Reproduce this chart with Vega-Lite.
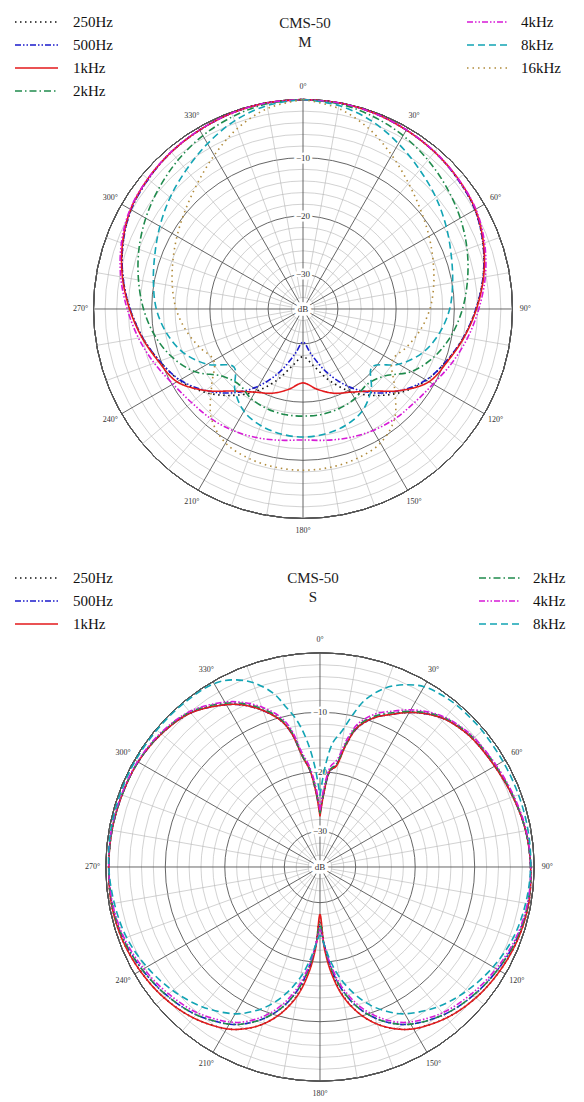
{
"$schema":"https://vega.github.io/schema/vega-lite/v6.json",
"padding":0,
"spacing":0,
"config":{"view":{"stroke":null},"font":"Liberation Serif","concat":{"spacing":0}},
"datasets":{
"ringMinor":[{"L":-34},{"L":-32},{"L":-28},{"L":-26},{"L":-24},{"L":-22},{"L":-18},{"L":-16},{"L":-14},{"L":-12},{"L":-8},{"L":-6},{"L":-4},{"L":-2}],
"ringMajor":[{"L":-30},{"L":-20},{"L":-10},{"L":0}],
"spokeMinor":[{"a":10},{"a":20},{"a":40},{"a":50},{"a":70},{"a":80},{"a":100},{"a":110},{"a":130},{"a":140},{"a":160},{"a":170},{"a":190},{"a":200},{"a":220},{"a":230},{"a":250},{"a":260},{"a":280},{"a":290},{"a":310},{"a":320},{"a":340},{"a":350}],
"spokeMajor":[{"a":0},{"a":30},{"a":60},{"a":90},{"a":120},{"a":150},{"a":180},{"a":210},{"a":240},{"a":270},{"a":300},{"a":330}],
"angLab":[{"a":0,"t":"0°"},{"a":30,"t":"30°"},{"a":60,"t":"60°"},{"a":90,"t":"90°"},{"a":120,"t":"120°"},{"a":150,"t":"150°"},{"a":180,"t":"180°"},{"a":210,"t":"210°"},{"a":240,"t":"240°"},{"a":270,"t":"270°"},{"a":300,"t":"300°"},{"a":330,"t":"330°"}],
"levLab":[{"L":-10,"t":"−10"},{"L":-20,"t":"−20"},{"L":-30,"t":"−30"}],
"centre":[{"t":"dB"}],
"M":[
{"a":0,"250Hz":0,"500Hz":0,"1kHz":0,"2kHz":0,"4kHz":0,"8kHz":0,"16kHz":0},
{"a":10,"250Hz":-0.05,"500Hz":-0.05,"1kHz":-0.05,"2kHz":-0.2,"4kHz":-0.05,"8kHz":-0.5,"16kHz":-1.0},
{"a":20,"250Hz":-0.2,"500Hz":-0.2,"1kHz":-0.2,"2kHz":-0.8,"4kHz":-0.2,"8kHz":-1.6,"16kHz":-3.0},
{"a":30,"250Hz":-0.5,"500Hz":-0.5,"1kHz":-0.5,"2kHz":-1.6,"4kHz":-0.45,"8kHz":-3.2,"16kHz":-5.5},
{"a":40,"250Hz":-0.8,"500Hz":-0.8,"1kHz":-0.8,"2kHz":-2.6,"4kHz":-0.75,"8kHz":-4.8,"16kHz":-7.8},
{"a":50,"250Hz":-1.3,"500Hz":-1.3,"1kHz":-1.2,"2kHz":-3.7,"4kHz":-1.2,"8kHz":-6.2,"16kHz":-9.6},
{"a":60,"250Hz":-1.9,"500Hz":-1.9,"1kHz":-1.8,"2kHz":-4.8,"4kHz":-1.7,"8kHz":-7.6,"16kHz":-11.0},
{"a":70,"250Hz":-3.1,"500Hz":-3.1,"1kHz":-3.0,"2kHz":-6.0,"4kHz":-2.8,"8kHz":-8.9,"16kHz":-12.2},
{"a":80,"250Hz":-4.6,"500Hz":-4.6,"1kHz":-4.5,"2kHz":-7.3,"4kHz":-4.2,"8kHz":-9.9,"16kHz":-13.2},
{"a":90,"250Hz":-6.3,"500Hz":-6.3,"1kHz":-6.2,"2kHz":-8.6,"4kHz":-5.8,"8kHz":-10.8,"16kHz":-14.2},
{"a":100,"250Hz":-8.0,"500Hz":-8.0,"1kHz":-7.9,"2kHz":-10.1,"4kHz":-7.3,"8kHz":-12.2,"16kHz":-15.5},
{"a":110,"250Hz":-9.8,"500Hz":-9.8,"1kHz":-9.6,"2kHz":-12.0,"4kHz":-8.8,"8kHz":-14.1,"16kHz":-17.0},
{"a":120,"250Hz":-11.5,"500Hz":-11.6,"1kHz":-11.0,"2kHz":-14.5,"4kHz":-10.2,"8kHz":-17.0,"16kHz":-18.3},
{"a":130,"250Hz":-13.8,"500Hz":-14.2,"1kHz":-14.2,"2kHz":-18.0,"4kHz":-11.0,"8kHz":-20.5,"16kHz":-15.5},
{"a":140,"250Hz":-16.6,"500Hz":-17.2,"1kHz":-17.6,"2kHz":-19.0,"4kHz":-11.4,"8kHz":-17.8,"16kHz":-11.5},
{"a":150,"250Hz":-19.6,"500Hz":-20.7,"1kHz":-19.5,"2kHz":-18.2,"4kHz":-11.9,"8kHz":-15.7,"16kHz":-9.4},
{"a":160,"250Hz":-23.0,"500Hz":-24.6,"1kHz":-20.6,"2kHz":-17.8,"4kHz":-12.5,"8kHz":-14.7,"16kHz":-8.7},
{"a":170,"250Hz":-26.2,"500Hz":-28.2,"1kHz":-22.0,"2kHz":-17.6,"4kHz":-13.1,"8kHz":-14.2,"16kHz":-8.4},
{"a":180,"250Hz":-27.8,"500Hz":-30.3,"1kHz":-23.3,"2kHz":-17.6,"4kHz":-13.5,"8kHz":-14.0,"16kHz":-8.3},
{"a":190,"250Hz":-26.2,"500Hz":-28.2,"1kHz":-22.0,"2kHz":-17.6,"4kHz":-13.1,"8kHz":-14.2,"16kHz":-8.4},
{"a":200,"250Hz":-23.0,"500Hz":-24.6,"1kHz":-20.6,"2kHz":-17.8,"4kHz":-12.5,"8kHz":-14.7,"16kHz":-8.7},
{"a":210,"250Hz":-19.6,"500Hz":-20.7,"1kHz":-19.5,"2kHz":-18.2,"4kHz":-11.9,"8kHz":-15.7,"16kHz":-9.4},
{"a":220,"250Hz":-16.6,"500Hz":-17.2,"1kHz":-17.6,"2kHz":-19.0,"4kHz":-11.4,"8kHz":-17.8,"16kHz":-11.5},
{"a":230,"250Hz":-13.8,"500Hz":-14.2,"1kHz":-14.2,"2kHz":-18.0,"4kHz":-11.0,"8kHz":-20.5,"16kHz":-15.5},
{"a":240,"250Hz":-11.5,"500Hz":-11.6,"1kHz":-11.0,"2kHz":-14.5,"4kHz":-10.2,"8kHz":-17.0,"16kHz":-18.3},
{"a":250,"250Hz":-9.8,"500Hz":-9.8,"1kHz":-9.6,"2kHz":-12.0,"4kHz":-8.8,"8kHz":-14.1,"16kHz":-17.0},
{"a":260,"250Hz":-8.0,"500Hz":-8.0,"1kHz":-7.9,"2kHz":-10.1,"4kHz":-7.3,"8kHz":-12.2,"16kHz":-15.5},
{"a":270,"250Hz":-6.3,"500Hz":-6.3,"1kHz":-6.2,"2kHz":-8.6,"4kHz":-5.8,"8kHz":-10.8,"16kHz":-14.2},
{"a":280,"250Hz":-4.6,"500Hz":-4.6,"1kHz":-4.5,"2kHz":-7.3,"4kHz":-4.2,"8kHz":-9.9,"16kHz":-13.2},
{"a":290,"250Hz":-3.1,"500Hz":-3.1,"1kHz":-3.0,"2kHz":-6.0,"4kHz":-2.8,"8kHz":-8.9,"16kHz":-12.2},
{"a":300,"250Hz":-1.9,"500Hz":-1.9,"1kHz":-1.8,"2kHz":-4.8,"4kHz":-1.7,"8kHz":-7.6,"16kHz":-11.0},
{"a":310,"250Hz":-1.3,"500Hz":-1.3,"1kHz":-1.2,"2kHz":-3.7,"4kHz":-1.2,"8kHz":-6.2,"16kHz":-9.6},
{"a":320,"250Hz":-0.8,"500Hz":-0.8,"1kHz":-0.8,"2kHz":-2.6,"4kHz":-0.75,"8kHz":-4.8,"16kHz":-7.8},
{"a":330,"250Hz":-0.5,"500Hz":-0.5,"1kHz":-0.5,"2kHz":-1.6,"4kHz":-0.45,"8kHz":-3.2,"16kHz":-5.5},
{"a":340,"250Hz":-0.2,"500Hz":-0.2,"1kHz":-0.2,"2kHz":-0.8,"4kHz":-0.2,"8kHz":-1.6,"16kHz":-3.0},
{"a":350,"250Hz":-0.05,"500Hz":-0.05,"1kHz":-0.05,"2kHz":-0.2,"4kHz":-0.05,"8kHz":-0.5,"16kHz":-1.0},
{"a":360,"250Hz":0,"500Hz":0,"1kHz":0,"2kHz":0,"4kHz":0,"8kHz":0,"16kHz":0}
],
"S":[
{"a":0,"250Hz":-27,"500Hz":-27,"1kHz":-27.5,"2kHz":-27,"4kHz":-26.5,"8kHz":-24},
{"a":3,"250Hz":-23.5,"500Hz":-23.5,"1kHz":-23.5,"2kHz":-23,"4kHz":-22.5,"8kHz":-19},
{"a":6,"250Hz":-19.8,"500Hz":-19.8,"1kHz":-19.6,"2kHz":-19.5,"4kHz":-19,"8kHz":-14.9},
{"a":9,"250Hz":-18.7,"500Hz":-18.7,"1kHz":-18.9,"2kHz":-18.5,"4kHz":-17.8,"8kHz":-13},
{"a":12,"250Hz":-15,"500Hz":-15,"1kHz":-15,"2kHz":-14.6,"4kHz":-14,"8kHz":-10},
{"a":15,"250Hz":-11.8,"500Hz":-11.8,"1kHz":-11.7,"2kHz":-11.4,"4kHz":-11,"8kHz":-7},
{"a":20,"250Hz":-9.3,"500Hz":-9.3,"1kHz":-9.3,"2kHz":-9.0,"4kHz":-8.6,"8kHz":-4},
{"a":25,"250Hz":-7.7,"500Hz":-7.7,"1kHz":-7.7,"2kHz":-7.4,"4kHz":-7.1,"8kHz":-2.2},
{"a":30,"250Hz":-6.0,"500Hz":-6.0,"1kHz":-6.0,"2kHz":-5.8,"4kHz":-5.5,"8kHz":-1.0},
{"a":35,"250Hz":-4.6,"500Hz":-4.6,"1kHz":-4.6,"2kHz":-4.4,"4kHz":-4.2,"8kHz":-0.6},
{"a":40,"250Hz":-3.5,"500Hz":-3.5,"1kHz":-3.5,"2kHz":-3.3,"4kHz":-3.2,"8kHz":-0.4},
{"a":45,"250Hz":-2.9,"500Hz":-2.9,"1kHz":-2.9,"2kHz":-2.7,"4kHz":-2.6,"8kHz":-0.4},
{"a":50,"250Hz":-2.5,"500Hz":-2.5,"1kHz":-2.5,"2kHz":-2.3,"4kHz":-2.2,"8kHz":-0.4},
{"a":60,"250Hz":-2.1,"500Hz":-2.1,"1kHz":-2.1,"2kHz":-1.9,"4kHz":-1.8,"8kHz":-0.5},
{"a":70,"250Hz":-1.5,"500Hz":-1.5,"1kHz":-1.5,"2kHz":-1.4,"4kHz":-1.3,"8kHz":-0.5},
{"a":80,"250Hz":-0.9,"500Hz":-0.9,"1kHz":-0.9,"2kHz":-0.9,"4kHz":-0.8,"8kHz":-0.5},
{"a":90,"250Hz":-0.6,"500Hz":-0.6,"1kHz":-0.6,"2kHz":-0.6,"4kHz":-0.6,"8kHz":-0.6},
{"a":100,"250Hz":-0.4,"500Hz":-0.5,"1kHz":-0.4,"2kHz":-0.5,"4kHz":-0.6,"8kHz":-0.9},
{"a":110,"250Hz":-0.6,"500Hz":-0.8,"1kHz":-0.6,"2kHz":-0.8,"4kHz":-1.0,"8kHz":-1.4},
{"a":120,"250Hz":-1.1,"500Hz":-1.5,"1kHz":-1.1,"2kHz":-1.5,"4kHz":-1.8,"8kHz":-2.4},
{"a":130,"250Hz":-1.8,"500Hz":-2.4,"1kHz":-1.8,"2kHz":-2.4,"4kHz":-2.8,"8kHz":-3.7},
{"a":140,"250Hz":-2.9,"500Hz":-3.6,"1kHz":-2.9,"2kHz":-3.6,"4kHz":-4.0,"8kHz":-5.3},
{"a":150,"250Hz":-4.6,"500Hz":-5.5,"1kHz":-4.6,"2kHz":-5.5,"4kHz":-5.9,"8kHz":-7.5},
{"a":155,"250Hz":-6.0,"500Hz":-7.0,"1kHz":-6.0,"2kHz":-7.0,"4kHz":-7.4,"8kHz":-9.2},
{"a":160,"250Hz":-7.9,"500Hz":-9.0,"1kHz":-7.9,"2kHz":-9.0,"4kHz":-9.5,"8kHz":-11.3},
{"a":165,"250Hz":-10.5,"500Hz":-11.6,"1kHz":-10.5,"2kHz":-11.6,"4kHz":-12.2,"8kHz":-14.0},
{"a":170,"250Hz":-14.2,"500Hz":-15.2,"1kHz":-14.0,"2kHz":-15.2,"4kHz":-15.8,"8kHz":-17.2},
{"a":174,"250Hz":-18.6,"500Hz":-19.2,"1kHz":-18.2,"2kHz":-19.2,"4kHz":-19.7,"8kHz":-20.4},
{"a":177,"250Hz":-23,"500Hz":-23,"1kHz":-22.5,"2kHz":-23,"4kHz":-23,"8kHz":-23},
{"a":180,"250Hz":-27.5,"500Hz":-26,"1kHz":-28,"2kHz":-26.5,"4kHz":-25.5,"8kHz":-24.5},
{"a":183,"250Hz":-23,"500Hz":-23,"1kHz":-22.5,"2kHz":-23,"4kHz":-23,"8kHz":-23},
{"a":186,"250Hz":-18.6,"500Hz":-19.2,"1kHz":-18.2,"2kHz":-19.2,"4kHz":-19.7,"8kHz":-20.4},
{"a":190,"250Hz":-14.2,"500Hz":-15.2,"1kHz":-14.0,"2kHz":-15.2,"4kHz":-15.8,"8kHz":-17.2},
{"a":195,"250Hz":-10.5,"500Hz":-11.6,"1kHz":-10.5,"2kHz":-11.6,"4kHz":-12.2,"8kHz":-14.0},
{"a":200,"250Hz":-7.9,"500Hz":-9.0,"1kHz":-7.9,"2kHz":-9.0,"4kHz":-9.5,"8kHz":-11.3},
{"a":205,"250Hz":-6.0,"500Hz":-7.0,"1kHz":-6.0,"2kHz":-7.0,"4kHz":-7.4,"8kHz":-9.2},
{"a":210,"250Hz":-4.6,"500Hz":-5.5,"1kHz":-4.6,"2kHz":-5.5,"4kHz":-5.9,"8kHz":-7.5},
{"a":220,"250Hz":-2.9,"500Hz":-3.6,"1kHz":-2.9,"2kHz":-3.6,"4kHz":-4.0,"8kHz":-5.3},
{"a":230,"250Hz":-1.8,"500Hz":-2.4,"1kHz":-1.8,"2kHz":-2.4,"4kHz":-2.8,"8kHz":-3.7},
{"a":240,"250Hz":-1.1,"500Hz":-1.5,"1kHz":-1.1,"2kHz":-1.5,"4kHz":-1.8,"8kHz":-2.4},
{"a":250,"250Hz":-0.6,"500Hz":-0.8,"1kHz":-0.6,"2kHz":-0.8,"4kHz":-1.0,"8kHz":-1.4},
{"a":260,"250Hz":-0.4,"500Hz":-0.5,"1kHz":-0.4,"2kHz":-0.5,"4kHz":-0.6,"8kHz":-0.9},
{"a":270,"250Hz":-0.5,"500Hz":-0.5,"1kHz":-0.5,"2kHz":-0.5,"4kHz":-0.5,"8kHz":-0.5},
{"a":280,"250Hz":-0.5,"500Hz":-0.5,"1kHz":-0.5,"2kHz":-0.5,"4kHz":-0.4,"8kHz":-0.3},
{"a":290,"250Hz":-0.6,"500Hz":-0.6,"1kHz":-0.6,"2kHz":-0.6,"4kHz":-0.5,"8kHz":-0.25},
{"a":300,"250Hz":-0.7,"500Hz":-0.7,"1kHz":-0.7,"2kHz":-0.7,"4kHz":-0.6,"8kHz":-0.2},
{"a":310,"250Hz":-1.2,"500Hz":-1.2,"1kHz":-1.2,"2kHz":-1.1,"4kHz":-1.0,"8kHz":-0.2},
{"a":320,"250Hz":-2.2,"500Hz":-2.2,"1kHz":-2.2,"2kHz":-2.0,"4kHz":-1.9,"8kHz":-0.2},
{"a":330,"250Hz":-4.5,"500Hz":-4.5,"1kHz":-4.5,"2kHz":-4.2,"4kHz":-4.0,"8kHz":-0.4},
{"a":335,"250Hz":-6.0,"500Hz":-6.0,"1kHz":-6.0,"2kHz":-5.7,"4kHz":-5.5,"8kHz":-1.3},
{"a":340,"250Hz":-8.0,"500Hz":-8.0,"1kHz":-8.0,"2kHz":-7.7,"4kHz":-7.4,"8kHz":-3.0},
{"a":345,"250Hz":-10.5,"500Hz":-10.5,"1kHz":-10.5,"2kHz":-10.2,"4kHz":-9.8,"8kHz":-5.8},
{"a":348,"250Hz":-13,"500Hz":-13,"1kHz":-13,"2kHz":-12.6,"4kHz":-12.2,"8kHz":-8.5},
{"a":351,"250Hz":-17.2,"500Hz":-17.2,"1kHz":-17.2,"2kHz":-17,"4kHz":-16.5,"8kHz":-11},
{"a":354,"250Hz":-19.6,"500Hz":-19.6,"1kHz":-19.6,"2kHz":-19.4,"4kHz":-19,"8kHz":-14.5},
{"a":357,"250Hz":-23.5,"500Hz":-23.5,"1kHz":-23.5,"2kHz":-23,"4kHz":-22.5,"8kHz":-19},
{"a":360,"250Hz":-27,"500Hz":-27,"1kHz":-27.5,"2kHz":-27,"4kHz":-26.5,"8kHz":-24}
]
},
"vconcat":[
{
"width":584,"height":551,
"title":{"text":"CMS-50","subtitle":"M","frame":"group","anchor":"middle","dx":13,"offset":-50,"font":"Liberation Serif","fontSize":15,"fontWeight":"normal","color":"#222","subtitleFont":"Liberation Serif","subtitleFontSize":15,"subtitleColor":"#222","subtitlePadding":4},
"layer":[
{"data":{"name":"ringMinor"},"mark":{"type":"arc","theta":0,"theta2":6.2832,"fillOpacity":0,"stroke":"#b4b4b4","strokeWidth":0.6},
 "encoding":{"x":{"datum":0,"type":"quantitative","scale":{"domain":[-52.06,48.28],"nice":false,"zero":false},"axis":null},
 "y":{"datum":0,"type":"quantitative","scale":{"domain":[-41.58,53.09],"nice":false,"zero":false},"axis":null},
 "radius":{"field":"L","type":"quantitative","stack":null,"scale":{"type":"linear","domain":[-36,0],"range":[0,209.5],"zero":false,"nice":false}}}},
{"data":{"name":"ringMajor"},"mark":{"type":"arc","theta":0,"theta2":6.2832,"fillOpacity":0,"stroke":"#555555","strokeWidth":0.9},
 "encoding":{"x":{"datum":0,"type":"quantitative"},"y":{"datum":0,"type":"quantitative"},
 "radius":{"field":"L","type":"quantitative","stack":null,"scale":{"type":"linear","domain":[-36,0],"range":[0,209.5],"zero":false,"nice":false}}}},
{"data":{"name":"spokeMinor"},"transform":[{"calculate":"2*sin(datum.a*PI/180)","as":"x0"},{"calculate":"2*cos(datum.a*PI/180)","as":"y0"},{"calculate":"36*sin(datum.a*PI/180)","as":"x1"},{"calculate":"36*cos(datum.a*PI/180)","as":"y1"}],
 "mark":{"type":"rule","stroke":"#b4b4b4","strokeWidth":0.6},
 "encoding":{"x":{"field":"x0","type":"quantitative"},"y":{"field":"y0","type":"quantitative"},"x2":{"field":"x1"},"y2":{"field":"y1"}}},
{"data":{"name":"spokeMajor"},"transform":[{"calculate":"0*datum.a","as":"x0"},{"calculate":"36*sin(datum.a*PI/180)","as":"x1"},{"calculate":"36*cos(datum.a*PI/180)","as":"y1"}],
 "mark":{"type":"rule","stroke":"#555555","strokeWidth":0.9},
 "encoding":{"x":{"field":"x0","type":"quantitative"},"y":{"field":"x0","type":"quantitative"},"x2":{"field":"x1"},"y2":{"field":"y1"}}},
{"data":{"name":"levLab"},"transform":[{"calculate":"datum.L+36","as":"ry"}],"mark":{"type":"text","font":"Liberation Serif","fontSize":9,"fill":"white","stroke":"white","strokeWidth":5},
 "encoding":{"x":{"datum":0,"type":"quantitative"},"y":{"field":"ry","type":"quantitative"},"text":{"field":"t","type":"nominal"}}},
{"data":{"name":"levLab"},"transform":[{"calculate":"datum.L+36","as":"ry"}],"mark":{"type":"text","font":"Liberation Serif","fontSize":9,"fill":"#333"},
 "encoding":{"x":{"datum":0,"type":"quantitative"},"y":{"field":"ry","type":"quantitative"},"text":{"field":"t","type":"nominal"}}},
{"data":{"name":"centre"},"mark":{"type":"text","font":"Liberation Serif","fontSize":9,"fill":"white","stroke":"white","strokeWidth":7},
 "encoding":{"x":{"datum":0,"type":"quantitative"},"y":{"datum":0,"type":"quantitative"},"text":{"field":"t","type":"nominal"}}},
{"data":{"name":"centre"},"mark":{"type":"text","font":"Liberation Serif","fontSize":9,"fill":"#333"},
 "encoding":{"x":{"datum":0,"type":"quantitative"},"y":{"datum":0,"type":"quantitative"},"text":{"field":"t","type":"nominal"}}},
{"data":{"name":"angLab"},"transform":[{"calculate":"38.2*sin(datum.a*PI/180)","as":"lx"},{"calculate":"38.2*cos(datum.a*PI/180)","as":"ly"}],
 "mark":{"type":"text","font":"Liberation Serif","fontSize":8,"fill":"#333"},
 "encoding":{"x":{"field":"lx","type":"quantitative"},"y":{"field":"ly","type":"quantitative"},"text":{"field":"t","type":"nominal"}}},
{"data":{"name":"M"},"transform":[{"fold":["250Hz","500Hz","1kHz","2kHz"],"as":["f","L"]},{"calculate":"(datum.L+36)*sin(datum.a*PI/180)","as":"px"},{"calculate":"(datum.L+36)*cos(datum.a*PI/180)","as":"py"}],
 "mark":{"type":"line","interpolate":"catmull-rom"},
 "encoding":{"x":{"field":"px","type":"quantitative"},"y":{"field":"py","type":"quantitative"},"order":{"field":"a","type":"quantitative"},
 "color":{"field":"f","type":"nominal","scale":{"domain":["250Hz","500Hz","1kHz","2kHz"],"range":["#111111","#1a1acc","#e31a1c","#1f8a4c"]},"legend":{"orient":"none","legendX":14,"legendY":12,"title":null,"symbolType":"stroke","symbolSize":1849,"labelFont":"Liberation Serif","labelFontSize":15,"labelColor":"#111","labelOffset":14,"clipHeight":20,"rowPadding":3,"padding":0}},
 "strokeDash":{"field":"f","type":"nominal","scale":{"domain":["250Hz","500Hz","1kHz","2kHz"],"range":[[1.5,3.5],[6,2,1.5,2,1.5,2],[1,0],[7,3,1.5,3]]}},
 "strokeWidth":{"field":"f","type":"nominal","scale":{"domain":["250Hz","500Hz","1kHz","2kHz"],"range":[1.6,1.6,2.4,1.6]}}}},
{"data":{"name":"M"},"transform":[{"fold":["4kHz","8kHz","16kHz"],"as":["f","L"]},{"calculate":"(datum.L+36)*sin(datum.a*PI/180)","as":"px"},{"calculate":"(datum.L+36)*cos(datum.a*PI/180)","as":"py"}],
 "mark":{"type":"line","interpolate":"catmull-rom"},
 "encoding":{"x":{"field":"px","type":"quantitative"},"y":{"field":"py","type":"quantitative"},"order":{"field":"a","type":"quantitative"},
 "color":{"field":"f","type":"nominal","scale":{"domain":["4kHz","8kHz","16kHz"],"range":["#d61ad6","#12a4b4","#b08a3a"]},"legend":{"orient":"none","legendX":466,"legendY":12,"title":null,"symbolType":"stroke","symbolSize":1681,"labelFont":"Liberation Serif","labelFontSize":15,"labelColor":"#111","labelOffset":12,"clipHeight":20,"rowPadding":3,"padding":0}},
 "strokeDash":{"field":"f","type":"nominal","scale":{"domain":["4kHz","8kHz","16kHz"],"range":[[6,2,1.5,2,1.5,2],[7,4],[1.5,4]]}},
 "strokeWidth":{"field":"f","type":"nominal","scale":{"domain":["4kHz","8kHz","16kHz"],"range":[1.6,1.6,1.6]}}}}
],
"resolve":{"scale":{"color":"independent","strokeDash":"independent","strokeWidth":"independent"}}
},
{
"width":584,"height":551,
"title":{"text":"CMS-50","subtitle":"S","frame":"group","anchor":"middle","dx":21,"offset":-54,"font":"Liberation Serif","fontSize":15,"fontWeight":"normal","color":"#222","subtitleFont":"Liberation Serif","subtitleFontSize":15,"subtitleColor":"#222","subtitlePadding":4},
"layer":[
{"data":{"name":"ringMinor"},"mark":{"type":"arc","theta":0,"theta2":6.2832,"fillOpacity":0,"stroke":"#b4b4b4","strokeWidth":0.6},
 "encoding":{"x":{"datum":0,"type":"quantitative","scale":{"domain":[-53.78,44.37],"nice":false,"zero":false},"axis":null},
 "y":{"datum":0,"type":"quantitative","scale":{"domain":[-39.5,53.11],"nice":false,"zero":false},"axis":null},
 "radius":{"field":"L","type":"quantitative","stack":null,"scale":{"type":"linear","domain":[-36,0],"range":[0,214.2],"zero":false,"nice":false}}}},
{"data":{"name":"ringMajor"},"mark":{"type":"arc","theta":0,"theta2":6.2832,"fillOpacity":0,"stroke":"#555555","strokeWidth":0.9},
 "encoding":{"x":{"datum":0,"type":"quantitative"},"y":{"datum":0,"type":"quantitative"},
 "radius":{"field":"L","type":"quantitative","stack":null,"scale":{"type":"linear","domain":[-36,0],"range":[0,214.2],"zero":false,"nice":false}}}},
{"data":{"name":"spokeMinor"},"transform":[{"calculate":"2*sin(datum.a*PI/180)","as":"x0"},{"calculate":"2*cos(datum.a*PI/180)","as":"y0"},{"calculate":"36*sin(datum.a*PI/180)","as":"x1"},{"calculate":"36*cos(datum.a*PI/180)","as":"y1"}],
 "mark":{"type":"rule","stroke":"#b4b4b4","strokeWidth":0.6},
 "encoding":{"x":{"field":"x0","type":"quantitative"},"y":{"field":"y0","type":"quantitative"},"x2":{"field":"x1"},"y2":{"field":"y1"}}},
{"data":{"name":"spokeMajor"},"transform":[{"calculate":"0*datum.a","as":"x0"},{"calculate":"36*sin(datum.a*PI/180)","as":"x1"},{"calculate":"36*cos(datum.a*PI/180)","as":"y1"}],
 "mark":{"type":"rule","stroke":"#555555","strokeWidth":0.9},
 "encoding":{"x":{"field":"x0","type":"quantitative"},"y":{"field":"x0","type":"quantitative"},"x2":{"field":"x1"},"y2":{"field":"y1"}}},
{"data":{"name":"levLab"},"transform":[{"calculate":"datum.L+36","as":"ry"}],"mark":{"type":"text","font":"Liberation Serif","fontSize":9,"fill":"white","stroke":"white","strokeWidth":5},
 "encoding":{"x":{"datum":0,"type":"quantitative"},"y":{"field":"ry","type":"quantitative"},"text":{"field":"t","type":"nominal"}}},
{"data":{"name":"levLab"},"transform":[{"calculate":"datum.L+36","as":"ry"}],"mark":{"type":"text","font":"Liberation Serif","fontSize":9,"fill":"#333"},
 "encoding":{"x":{"datum":0,"type":"quantitative"},"y":{"field":"ry","type":"quantitative"},"text":{"field":"t","type":"nominal"}}},
{"data":{"name":"centre"},"mark":{"type":"text","font":"Liberation Serif","fontSize":9,"fill":"white","stroke":"white","strokeWidth":7},
 "encoding":{"x":{"datum":0,"type":"quantitative"},"y":{"datum":0,"type":"quantitative"},"text":{"field":"t","type":"nominal"}}},
{"data":{"name":"centre"},"mark":{"type":"text","font":"Liberation Serif","fontSize":9,"fill":"#333"},
 "encoding":{"x":{"datum":0,"type":"quantitative"},"y":{"datum":0,"type":"quantitative"},"text":{"field":"t","type":"nominal"}}},
{"data":{"name":"angLab"},"transform":[{"calculate":"38.2*sin(datum.a*PI/180)","as":"lx"},{"calculate":"38.2*cos(datum.a*PI/180)","as":"ly"}],
 "mark":{"type":"text","font":"Liberation Serif","fontSize":8,"fill":"#333"},
 "encoding":{"x":{"field":"lx","type":"quantitative"},"y":{"field":"ly","type":"quantitative"},"text":{"field":"t","type":"nominal"}}},
{"data":{"name":"S"},"transform":[{"fold":["250Hz","500Hz","1kHz"],"as":["f","L"]},{"calculate":"(datum.L+36)*sin(datum.a*PI/180)","as":"px"},{"calculate":"(datum.L+36)*cos(datum.a*PI/180)","as":"py"}],
 "mark":{"type":"line","interpolate":"catmull-rom"},
 "encoding":{"x":{"field":"px","type":"quantitative"},"y":{"field":"py","type":"quantitative"},"order":{"field":"a","type":"quantitative"},
 "color":{"field":"f","type":"nominal","scale":{"domain":["250Hz","500Hz","1kHz"],"range":["#111111","#1a1acc","#e31a1c"]},"legend":{"orient":"none","legendX":14,"legendY":17,"title":null,"symbolType":"stroke","symbolSize":1849,"labelFont":"Liberation Serif","labelFontSize":15,"labelColor":"#111","labelOffset":14,"clipHeight":20,"rowPadding":3,"padding":0}},
 "strokeDash":{"field":"f","type":"nominal","scale":{"domain":["250Hz","500Hz","1kHz"],"range":[[1.5,3.5],[6,2,1.5,2,1.5,2],[1,0]]}},
 "strokeWidth":{"field":"f","type":"nominal","scale":{"domain":["250Hz","500Hz","1kHz"],"range":[1.6,1.6,2.4]}}}},
{"data":{"name":"S"},"transform":[{"fold":["2kHz","4kHz","8kHz"],"as":["f","L"]},{"calculate":"(datum.L+36)*sin(datum.a*PI/180)","as":"px"},{"calculate":"(datum.L+36)*cos(datum.a*PI/180)","as":"py"}],
 "mark":{"type":"line","interpolate":"catmull-rom"},
 "encoding":{"x":{"field":"px","type":"quantitative"},"y":{"field":"py","type":"quantitative"},"order":{"field":"a","type":"quantitative"},
 "color":{"field":"f","type":"nominal","scale":{"domain":["2kHz","4kHz","8kHz"],"range":["#1f8a4c","#d61ad6","#12a4b4"]},"legend":{"orient":"none","legendX":478,"legendY":17,"title":null,"symbolType":"stroke","symbolSize":1681,"labelFont":"Liberation Serif","labelFontSize":15,"labelColor":"#111","labelOffset":12,"clipHeight":20,"rowPadding":3,"padding":0}},
 "strokeDash":{"field":"f","type":"nominal","scale":{"domain":["2kHz","4kHz","8kHz"],"range":[[7,3,1.5,3],[6,2,1.5,2,1.5,2],[7,4]]}},
 "strokeWidth":{"field":"f","type":"nominal","scale":{"domain":["2kHz","4kHz","8kHz"],"range":[1.6,1.6,1.6]}}}}
],
"resolve":{"scale":{"color":"independent","strokeDash":"independent","strokeWidth":"independent"}}
}
]
}
